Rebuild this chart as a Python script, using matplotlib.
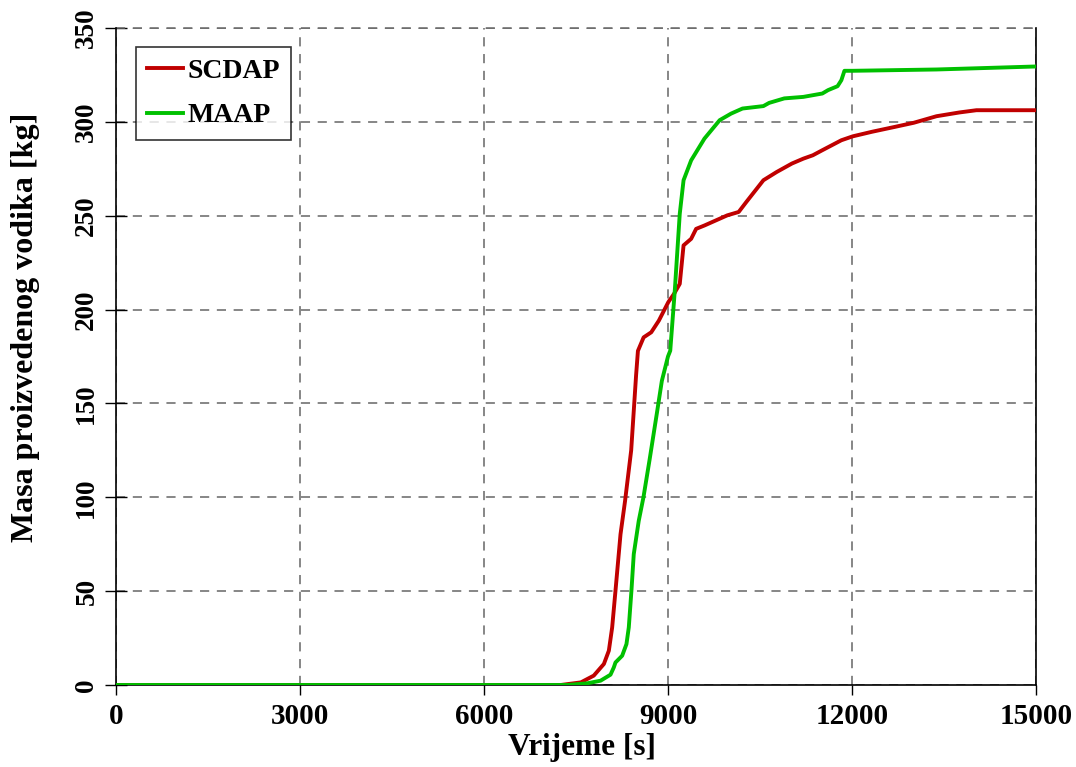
import numpy as np
import matplotlib
matplotlib.use("Agg")
import matplotlib.pyplot as plt

# SCDAP curve (time [s], hydrogen mass [kg])
scdap_t = [0, 7250, 7580, 7790, 7955, 8036, 8090, 8144, 8226, 8300, 8400, 8480,
           8510, 8603, 8727, 8851, 9006, 9099, 9192, 9254, 9378, 9459, 9595,
           9781, 9967, 10153, 10277, 10556, 10773, 11021, 11207, 11362, 11517,
           11827, 12014, 12324, 12696, 13006, 13378, 13750, 14029, 15000]
scdap_m = [0, 0, 1.4, 5, 11.2, 18.3, 30.7, 50.2, 80.3, 98, 125, 165,
           178, 185.2, 187.9, 194.1, 204, 208.4, 213.7, 234.2, 237.7, 243, 244.8,
           247.5, 250.2, 252, 257.3, 268.9, 273.3, 277.8, 280.4, 282.2, 284.9,
           290.2, 292.3, 294.7, 297.3, 299.5, 303, 305, 306.2, 306.2]

# MAAP curve
maap_t = [0, 7360, 7684, 7901, 8063, 8117, 8144, 8253, 8323, 8361, 8404, 8442,
          8523, 8600, 8700, 8820, 8900, 9000, 9037, 9111, 9192, 9254, 9378,
          9595, 9843, 10029, 10215, 10556, 10649, 10897, 11207, 11517, 11610,
          11765, 11827, 11877, 12014, 13378, 15000]
maap_m = [0, 0, 0.9, 2.3, 5.5, 9.4, 12, 15.6, 21.8, 30.7, 50.2, 69.7,
          87.4, 100, 120, 145, 162, 175, 178.1, 210.1, 251, 268.9, 279.5,
          291.1, 300.9, 304.4, 307.1, 308.4, 310.1, 312.5, 313.3, 315.1, 316.9,
          319, 322.2, 327.2, 327.2, 327.9, 329.5]

xticks = [0, 3000, 6000, 9000, 12000, 15000]
yticks = [0, 50, 100, 150, 200, 250, 300, 350]

plt.rcParams['font.family'] = ['Liberation Serif', 'DejaVu Serif']
plt.rcParams['font.weight'] = 'bold'

fig = plt.figure(figsize=(10.76, 7.67), dpi=100)
ax = fig.add_axes([0.1078, 0.1069, 0.855, 0.8566])

ax.plot(scdap_t, scdap_m, color='#C00000', lw=2.8, label='SCDAP', zorder=3)
ax.plot(maap_t, maap_m, color='#00C000', lw=2.8, label='MAAP', zorder=3)

ax.set_xlim(0, 15000)
ax.set_ylim(0, 350)
ax.set_xticks(xticks)
ax.set_yticks(yticks)
ax.set_xticklabels([str(v) for v in xticks], fontsize=21, fontweight='bold')
ax.set_yticklabels([str(v) for v in yticks], fontsize=19.5, fontweight='bold',
                   rotation=90, va='center')
ax.tick_params(axis='x', direction='out', length=7, width=1, pad=6)
ax.tick_params(axis='y', direction='inout', length=16, width=1, pad=4)

ax.grid(True, color='#666666', linestyle=(0, (6, 5)), linewidth=1.1)
ax.spines['top'].set_visible(False)
for s in ['left', 'bottom', 'right']:
    ax.spines[s].set_linewidth(1.2)
ax.axhline(350, color='#666666', linestyle=(0, (6, 5)), linewidth=1.1, clip_on=False)

ax.set_xlabel('Vrijeme [s]', fontsize=22.5, fontweight='bold')
ax.set_ylabel('Masa proizvedenog vodika [kg]', fontsize=23, fontweight='bold')
ax.xaxis.set_label_coords(0.507, -0.073)
ax.yaxis.set_label_coords(-0.083, 0.544)

leg = ax.legend(loc='upper left', bbox_to_anchor=(0.0217, 0.971), fontsize=20,
                frameon=True, fancybox=False, handlelength=1.3, handletextpad=0.15,
                borderpad=0.4, labelspacing=0.7, borderaxespad=0)
leg.get_frame().set_edgecolor('black')
leg.get_frame().set_linewidth(1.2)
for t in leg.get_texts():
    t.set_fontweight('bold')

fig.savefig('out.png', dpi=100)
